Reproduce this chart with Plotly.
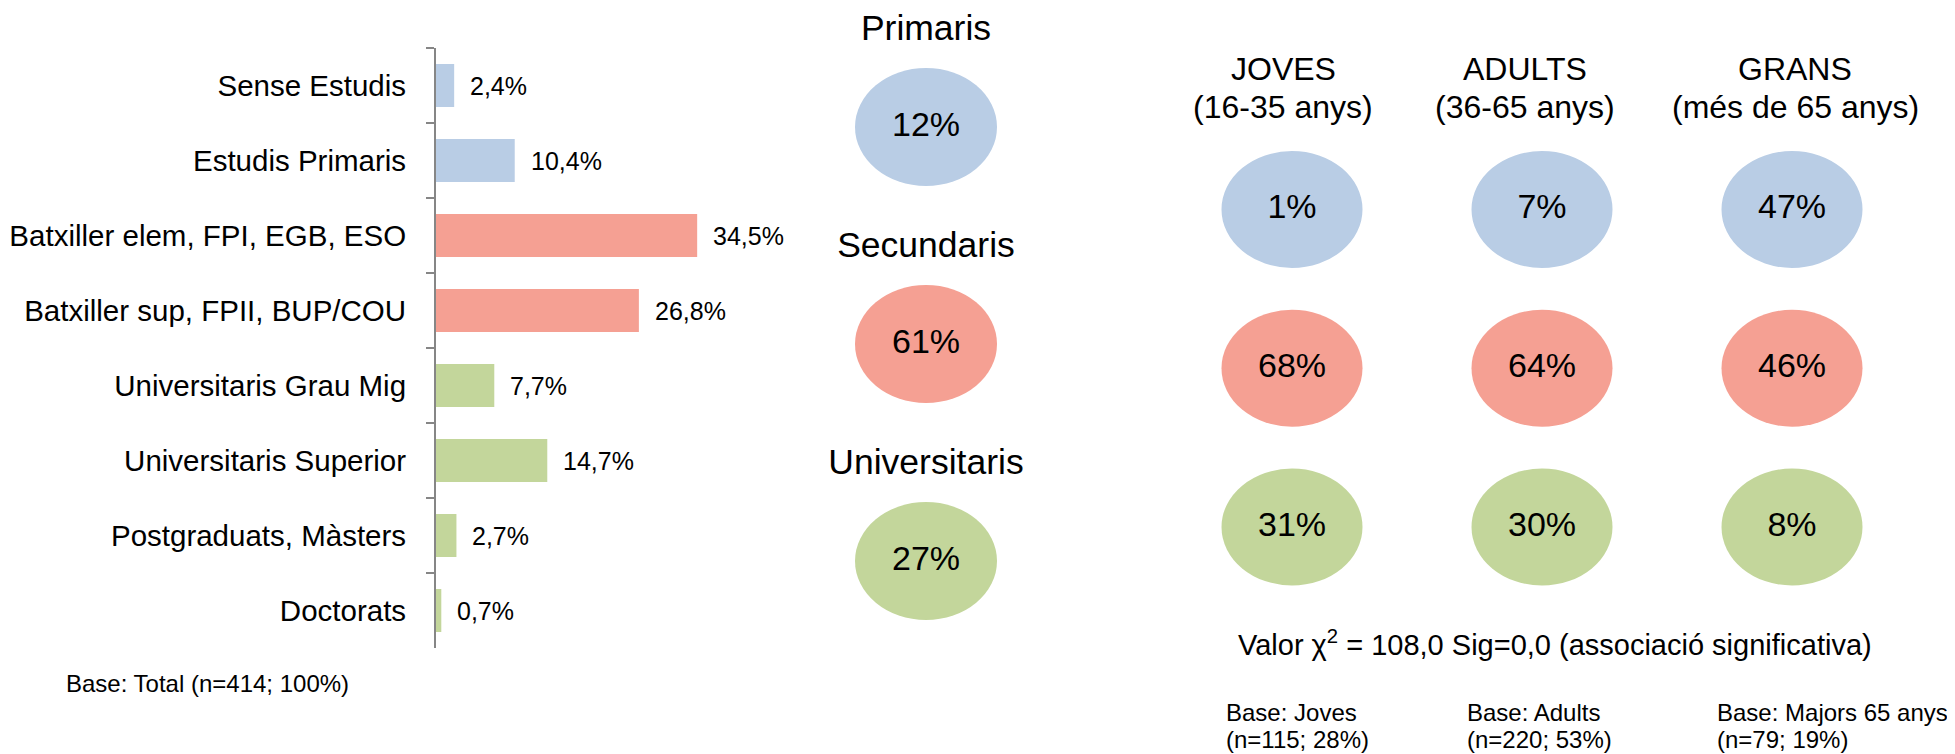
import plotly.graph_objects as go

# The page body has an 8px margin; the figure is sized and placed so that
# pixel positions measured on the 1955x754 reference map correctly.
PAGE_W, PAGE_H = 1955, 754
OFF = 8
W, H = PAGE_W - OFF, PAGE_H - OFF
FONT = "Liberation Sans, Arial, sans-serif"
BLUE, RED, GREEN = "#B9CDE5", "#F5A093", "#C3D69B"


def px(x):
    return (x - OFF) / W


def py(y):
    return 1 - (y - OFF) / H


# ---------------- data ----------------
categories = ["Sense Estudis", "Estudis Primaris", "Batxiller elem, FPI, EGB, ESO",
              "Batxiller sup, FPII, BUP/COU", "Universitaris Grau Mig",
              "Universitaris Superior", "Postgraduats, Màsters", "Doctorats"]
values = [2.4, 10.4, 34.5, 26.8, 7.7, 14.7, 2.7, 0.7]
value_labels = ["2,4%", "10,4%", "34,5%", "26,8%", "7,7%", "14,7%", "2,7%", "0,7%"]
bar_groups = ["Primaris", "Primaris", "Secundaris", "Secundaris",
              "Universitaris", "Universitaris", "Universitaris", "Universitaris"]

levels = ["Primaris", "Secundaris", "Universitaris"]
level_totals = [12, 61, 27]

age_groups = ["JOVES", "ADULTS", "GRANS"]
age_ranges = ["(16-35 anys)", "(36-65 anys)", "(més de 65 anys)"]
age_primaris = [1, 7, 47]
age_secundaris = [68, 64, 46]
age_universitaris = [31, 30, 8]
age_bases = ["Base: Joves", "Base: Adults", "Base: Majors 65 anys"]
age_ns = ["(n=115; 28%)", "(n=220; 53%)", "(n=79; 19%)"]

chi_text = "Valor χ<sup>2</sup> = 108,0 Sig=0,0 (associació significativa)"
total_base = "Base: Total (n=414; 100%)"

level_colors = {"Primaris": BLUE, "Secundaris": RED, "Universitaris": GREEN}

fig = go.Figure()

# ---------------- left bar chart ----------------
fig.add_trace(go.Bar(
    x=values, y=categories, orientation="h",
    marker=dict(color=[level_colors[g] for g in bar_groups], line=dict(width=0)),
    xaxis="x", yaxis="y", showlegend=False, hoverinfo="x+y",
))
annotations = []
for c, v, t in zip(categories, values, value_labels):
    annotations.append(dict(x=v, y=c, xref="x", yref="y", text=t, showarrow=False,
                            xanchor="left", yanchor="middle", xshift=14,
                            font=dict(size=25, color="black", family=FONT)))

# ---------------- middle ellipses ----------------
shapes = []
for i, lvl in enumerate(levels):
    shapes.append(dict(type="circle", xref="x2", yref="y2",
                       x0=-0.355, x1=0.355, y0=i - 0.272, y1=i + 0.272,
                       fillcolor=level_colors[lvl], line=dict(width=0), layer="below"))
fig.add_trace(go.Scatter(
    x=[0] * 3, y=list(range(3)), mode="text",
    text=[f"{v}%" for v in level_totals],
    textfont=dict(size=34, color="black", family=FONT), cliponaxis=False,
    xaxis="x2", yaxis="y2", showlegend=False, hoverinfo="skip"))
fig.add_trace(go.Scatter(
    x=[0] * 3, y=[i - 0.44 for i in range(3)], mode="text",
    text=levels,
    textfont=dict(size=35.5, color="black", family=FONT), cliponaxis=False,
    xaxis="x2", yaxis="y2", showlegend=False, hoverinfo="skip"))

# ---------------- right grid of ellipses ----------------
grid_rows = [age_primaris, age_secundaris, age_universitaris]
gx, gy, gt = [], [], []
for r, (lvl, row) in enumerate(zip(levels, grid_rows)):
    for c, v in enumerate(row):
        shapes.append(dict(type="circle", xref="x3", yref="y3",
                           x0=c - 0.282, x1=c + 0.282, y0=r - 0.3685, y1=r + 0.3685,
                           fillcolor=level_colors[lvl], line=dict(width=0), layer="below"))
        gx.append(c)
        gy.append(r)
        gt.append(f"{v}%")
fig.add_trace(go.Scatter(
    x=gx, y=gy, mode="text", text=gt,
    textfont=dict(size=34, color="black", family=FONT), cliponaxis=False,
    xaxis="x3", yaxis="y3", showlegend=False, hoverinfo="skip"))

header_shift = [-9, -17, 3]
for c, (g, rng) in enumerate(zip(age_groups, age_ranges)):
    annotations.append(dict(x=c, y=py(69), xref="x3", yref="paper", text=g,
                            showarrow=False, xanchor="center", yanchor="middle",
                            xshift=header_shift[c],
                            font=dict(size=32, color="black", family=FONT)))
    annotations.append(dict(x=c, y=py(107), xref="x3", yref="paper", text=rng,
                            showarrow=False, xanchor="center", yanchor="middle",
                            xshift=header_shift[c],
                            font=dict(size=32, color="black", family=FONT)))

base_left = [1224, 1465, 1715]
for xl, b, n in zip(base_left, age_bases, age_ns):
    annotations.append(dict(x=px(xl), y=py(712), xref="paper", yref="paper", text=b,
                            showarrow=False, xanchor="left", yanchor="middle",
                            font=dict(size=24, color="black", family=FONT)))
    annotations.append(dict(x=px(xl), y=py(739), xref="paper", yref="paper", text=n,
                            showarrow=False, xanchor="left", yanchor="middle",
                            font=dict(size=24, color="black", family=FONT)))

annotations.append(dict(x=px(1555), y=py(643), xref="paper", yref="paper", text=chi_text,
                        showarrow=False, xanchor="center", yanchor="middle",
                        font=dict(size=29, color="black", family=FONT)))
annotations.append(dict(x=px(64), y=py(683), xref="paper", yref="paper", text=total_base,
                        showarrow=False, xanchor="left", yanchor="middle",
                        font=dict(size=24, color="black", family=FONT)))

PX_PER_PCT = 7.57
x_left = 436
x_right = x_left + 40 * PX_PER_PCT

fig.update_layout(
    width=W, height=H, margin=dict(l=0, r=0, t=0, b=0, autoexpand=False),
    paper_bgcolor="white", plot_bgcolor="white",
    font=dict(family=FONT, color="black"),
    bargap=0.427,
    xaxis=dict(domain=[px(x_left), px(x_right)], range=[0, 40], visible=False, fixedrange=True),
    yaxis=dict(domain=[py(648), py(48)], type="category",
               categoryorder="array", categoryarray=categories, autorange="reversed",
               showline=True, linecolor="#868686", linewidth=2,
               ticks="outside", ticklen=8, tickwidth=2, tickcolor="#868686",
               tickson="boundaries", ticklabelstandoff=22,
               tickfont=dict(size=29.5, color="black", family=FONT),
               showgrid=False, zeroline=False, fixedrange=True),
    xaxis2=dict(domain=[px(826), px(1026)], range=[-0.5, 0.5], visible=False, fixedrange=True),
    yaxis2=dict(domain=[py(669.5), py(18.5)], range=[2.5, -0.5], visible=False,
                fixedrange=True),
    xaxis3=dict(domain=[px(1167), px(1917)], range=[-0.5, 2.5], visible=False, fixedrange=True),
    yaxis3=dict(domain=[py(606.4), py(130.1)], range=[2.5, -0.5], visible=False,
                fixedrange=True),
    shapes=shapes,
    annotations=annotations,
)

fig.write_html("out.html")
